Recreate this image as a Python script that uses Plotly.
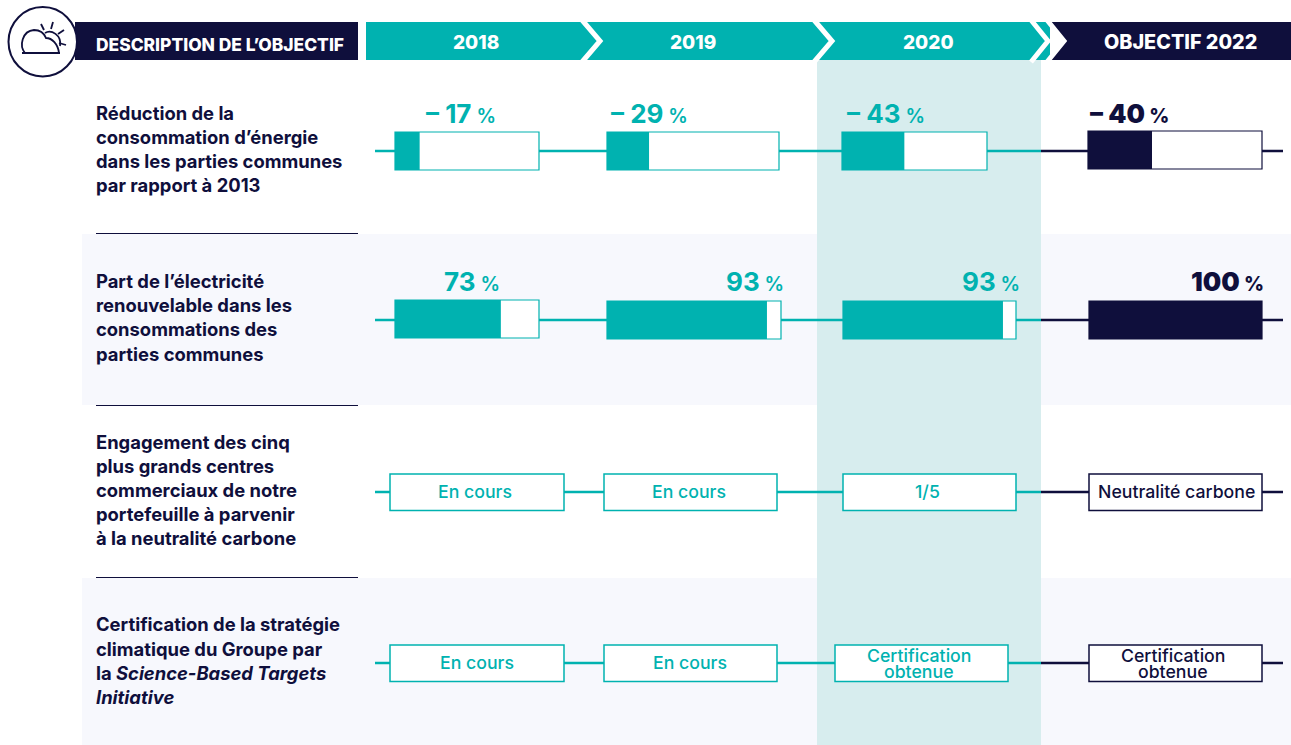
import plotly.graph_objects as go

# data
headers = ["2018", "2019", "2020", "OBJECTIF 2022"]
left_title = "DESCRIPTION DE L’OBJECTIF"
row_labels = [
    ["Réduction de la", "consommation d’énergie", "dans les parties communes", "par rapport à 2013"],
    ["Part de l’électricité", "renouvelable dans les", "consommations des", "parties communes"],
    ["Engagement des cinq", "plus grands centres", "commerciaux de notre", "portefeuille à parvenir", "à la neutralité carbone"],
    ["Certification de la stratégie", "climatique du Groupe par", "la <i>Science-Based Targets</i>", "<i>Initiative</i>"],
]
energy_values = [17, 29, 43, 40]
energy_texts = ["– 17", "– 29", "– 43", "– 40"]
renewable_values = [73, 93, 93, 100]
renewable_texts = ["73", "93", "93", "100"]
engagement_status = [["En cours"], ["En cours"], ["1/5"], ["Neutralité carbone"]]
certification_status = [["En cours"], ["En cours"], ["Certification", "obtenue"], ["Certification", "obtenue"]]

TEAL = "#00b2b0"
NAVY = "#0f0f3c"
PALE = "#f7f8fd"
HIGHLIGHT = "#d7edee"
FONT = "Inter"
W, H = 1291, 745

# layout of the cells, in page pixels
energy_boxes = [(395, 539), (607, 779), (842, 987), (1088, 1262)]
energy_scale = [145, 145, 145, 160]
energy_y = [(132, 170), (132, 170), (132, 170), (131, 169)]
energy_label_x = [425, 610, 846, 1089]
renewable_boxes = [(395, 539), (607, 781), (843, 1016), (1089, 1262)]
renewable_scale = [145, 172, 172, 173]
renewable_y = [(300, 338), (301, 339), (301, 339), (301, 339)]
renewable_label_x = [443, 725, 961, 1190]
engagement_boxes = [(390, 564), (604, 777), (843, 1016), (1089, 1262)]
certification_boxes = [(390, 564), (604, 777), (835, 1008), (1089, 1262)]
engagement_mid = [475, 688.5, 927, 1176.5]
certification_mid = [477, 689.5, 919, 1172.5]
label_rows = [[113, 137, 161, 185], [281, 305, 329, 354], [442, 466, 490, 514, 538], [624, 649, 673, 697]]
connector_y = [151, 320, 492, 663]

shapes = []
annotations = []


def rect(x0, y0, x1, y1, fill, line=None, width=0):
    shapes.append(dict(type="rect", x0=x0, y0=y0, x1=x1, y1=y1, fillcolor=fill, layer="below",
                       line=dict(color=line or fill, width=width)))


def path(d, color, width, fill=None):
    shapes.append(dict(type="path", path=d, layer="below", fillcolor=fill or "rgba(0,0,0,0)",
                       line=dict(color=color, width=width)))


def text(x, y, s, color, size, weight=400, anchor="left"):
    annotations.append(dict(x=x, y=y, text=s, xref="x", yref="y", showarrow=False, xanchor=anchor, yanchor="middle",
                            align=anchor, borderpad=0,
                            font=dict(family=FONT, size=size, color=color, weight=weight)))


# backgrounds
rect(82, 234, W, 405, PALE)
rect(82, 578, W, H, PALE)
rect(817, 60, 1041, H, HIGHLIGHT)
for y in [233.5, 405.5, 577.5]:
    shapes.append(dict(type="line", x0=96, x1=358, y0=y, y1=y, layer="below", line=dict(color=NAVY, width=1)))

# header band and chevrons
rect(75, 22, 358, 60, NAVY)
rect(366, 22, 1050, 60, TEAL)
path("M1047,22 L1291,22 L1291,60 L1047,60 L1064,41 Z", NAVY, 0, NAVY)
for x0, x1 in [(582, 600), (814, 832), (1031, 1048), (1047, 1064)]:
    path(f"M{x0},20 L{x1},41 L{x0},62", "white", 5)

# icon
shapes.append(dict(type="circle", x0=8.5, y0=7, x1=77, y1=76.5, fillcolor="white", layer="below",
                   line=dict(color=NAVY, width=2)))
path("M22,53 L60,53", NAVY, 2)
path("M25,53 C19,46 22,31 34,30 C40,30 44,33 46,38 C52,38 58,44 59,53", NAVY, 1.8)
path("M45,33 C51,29 62,35 60,46", NAVY, 1.8)
for d in ["M41,24 L44,30", "M53,22 L51,29", "M64,30 L58,34", "M66,45 L59,43"]:
    path(d, NAVY, 1.8)

# connectors and boxes
for y in connector_y:
    shapes.append(dict(type="line", x0=375, x1=1041, y0=y, y1=y, layer="below", line=dict(color=TEAL, width=2.5)))
    shapes.append(dict(type="line", x0=1041, x1=1283, y0=y, y1=y, layer="below", line=dict(color=NAVY, width=2.5)))


def color_of(i):
    return NAVY if i == 3 else TEAL


for boxes, ys in [(energy_boxes, energy_y), (renewable_boxes, renewable_y)]:
    for i, (b, yy) in enumerate(zip(boxes, ys)):
        rect(b[0], yy[0], b[1], yy[1], "white", color_of(i), 1.2)

fig = go.Figure()


# progress fills go through the axes as real bars
def add_fills(values, boxes, scale, ys):
    for i, v in enumerate(values):
        fig.add_trace(go.Bar(orientation="h", y=[sum(ys[i]) / 2], x=[v * scale[i] / 100], base=[boxes[i][0]],
                             width=[ys[i][1] - ys[i][0]], marker=dict(color=color_of(i), line=dict(width=0)),
                             showlegend=False, hoverinfo="skip"))


add_fills(energy_values, energy_boxes, energy_scale, energy_y)
add_fills(renewable_values, renewable_boxes, renewable_scale, renewable_y)


# numbers above the fills
def add_numbers(texts, xs, y):
    for i, t in enumerate(texts):
        heavy = i == 3
        s = f"{t}<span style='font-size:19.5px;font-weight:{800 if heavy else 600}'> %</span>"
        text(xs[i], y, s, color_of(i), 26, 900 if heavy else 700)


add_numbers(energy_texts, energy_label_x, 113)
add_numbers(renewable_texts, renewable_label_x, 281)


# status cells
def add_status(status, boxes, mids, row):
    y = connector_y[row]
    for i, lines in enumerate(status):
        b = boxes[i]
        rect(b[0], y - 18, b[1], y + 18.5, "white", color_of(i), 1.5)
        c = color_of(i)
        if len(lines) == 1:
            text(mids[i], y - 1, lines[0], c, 17.7, 500, "center")
        else:
            text(mids[i], y - 7.5, lines[0], c, 17.7, 500, "center")
            text(mids[i], y + 8, lines[1], c, 17.7, 500, "center")


add_status(engagement_status, engagement_boxes, engagement_mid, 2)
add_status(certification_status, certification_boxes, certification_mid, 3)

# headers and row labels
text(95, 44, left_title, "white", 17.4, 800)
for s, x, size in zip(headers, [476, 693, 928, 1180], [19, 19, 19, 19.8]):
    text(x, 42, s, "white", size, 800, "center")
for lines, ys in zip(row_labels, label_rows):
    for s, y in zip(lines, ys):
        text(95, y, s, NAVY, 18.4, 700)

fig.update_layout(
    width=W, height=H, margin=dict(l=0, r=0, t=0, b=0), paper_bgcolor="white", plot_bgcolor="white",
    barmode="overlay", showlegend=False, shapes=shapes, annotations=annotations,
    xaxis=dict(range=[0, W], visible=False, fixedrange=True),
    yaxis=dict(range=[H, 0], visible=False, fixedrange=True),
)
fig.write_html("out.html", config=dict(displayModeBar=False),
               post_script="document.body.style.margin='0';document.body.style.overflow='hidden';")
